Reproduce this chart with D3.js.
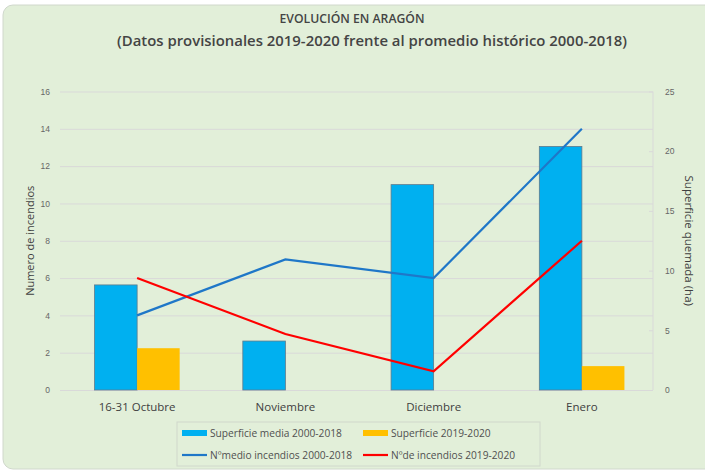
<!DOCTYPE html>
<html>
<head>
<meta charset="utf-8">
<script src="https://cdn.jsdelivr.net/npm/d3@7"></script>
<style>
  body { margin: 0; background: #fff; }
  svg { font-family: "Open Sans", "Noto Sans", sans-serif; }
  .tick text { fill: #666; font-size: 8.5px; }
  .tick line { stroke: #d9d9d9; }
  .domain { display: none; }
</style>
</head>
<body>
<svg class="chart" width="705" height="471"></svg>
<script>
var categories = ["16-31 Octubre", "Noviembre", "Diciembre", "Enero"];
var superficieMedia = [8.8, 4.1, 17.2, 20.4];     // ha, right axis
var superficie1920  = [3.5, 0, 0, 2.0];           // ha, right axis
var incendiosMedia  = [4, 7, 6, 14];              // left axis
var incendios1920   = [6, 3, 1, 8];               // left axis
var leftTicks  = [0, 2, 4, 6, 8, 10, 12, 14, 16];
var rightTicks = [0, 5, 10, 15, 20, 25];

(function() {
  var svg = d3.select(".chart");
  var margin = {top: 91.5, left: 60, right: 52, bottom: 81};
  var width = 705 - margin.left - margin.right,
      height = 471 - margin.top - margin.bottom;

  // chart background
  svg.append("rect")
    .attr("x", 3).attr("y", 5)
    .attr("width", 712).attr("height", 464)
    .attr("rx", 10)
    .attr("fill", "#e2efd9")
    .attr("stroke", "#d0d8cc");

  svg.append("text")
    .attr("x", 352).attr("y", 23)
    .attr("text-anchor", "middle")
    .style("font-size", "13px").style("font-weight", 600)
    .attr("fill", "#444")
    .attr("textLength", 145).attr("lengthAdjust", "spacingAndGlyphs")
    .text("EVOLUCIÓN EN ARAGÓN");

  svg.append("text")
    .attr("x", 372).attr("y", 46)
    .attr("text-anchor", "middle")
    .style("font-size", "13.5px").style("font-weight", 600)
    .attr("fill", "#444")
    .attr("textLength", 510).attr("lengthAdjust", "spacingAndGlyphs")
    .text("(Datos provisionales 2019-2020 frente al promedio histórico 2000-2018)");

  var chart = svg.append("g")
    .attr("transform", "translate(" + margin.left + "," + margin.top + ")");

  var x = d3.scaleBand().domain(categories).range([0, width]);
  var yL = d3.scaleLinear().domain([0, 16]).range([height, 0]);
  var yR = d3.scaleLinear().domain([0, 25]).range([height, 0]);
  var barW = x.bandwidth() * 0.287;
  var cx = function(d) { return x(d) + x.bandwidth() / 2 + 3; };

  // gridlines + left axis
  chart.append("g")
    .call(d3.axisLeft(yL).tickValues(leftTicks).tickSize(-width).tickPadding(10))
    .call(function(g) { g.selectAll(".tick line").attr("stroke", "#d9d9d9"); });

  // right axis
  var ra = chart.append("g")
    .attr("transform", "translate(" + width + ",0)")
    .call(d3.axisRight(yR).tickValues(rightTicks).tickSize(0).tickPadding(12));
  ra.append("line").attr("y1", 0).attr("y2", height).attr("stroke", "#d9d9d9");
  ra.selectAll(".tick").append("line").attr("x1", -4).attr("x2", 0).attr("stroke", "#d9d9d9");

  // bars
  chart.selectAll(".b1").data(categories).enter().append("rect")
    .attr("x", function(d) { return cx(d) - barW; })
    .attr("y", function(d, i) { return yR(superficieMedia[i]); })
    .attr("width", barW)
    .attr("height", function(d, i) { return height - yR(superficieMedia[i]); })
    .attr("fill", "#00b0f0")
    .attr("stroke", "#5f7a8c").attr("stroke-width", 0.8);

  chart.selectAll(".b2").data(categories).enter().append("rect")
    .attr("x", function(d) { return cx(d); })
    .attr("y", function(d, i) { return yR(superficie1920[i]); })
    .attr("width", barW)
    .attr("height", function(d, i) { return height - yR(superficie1920[i]); })
    .attr("fill", "#ffc000");

  // lines
  var line = d3.line()
    .x(function(d, i) { return cx(categories[i]); })
    .y(function(d) { return yL(d); });

  chart.append("path").datum(incendiosMedia)
    .attr("d", line).attr("fill", "none")
    .attr("stroke", "#1f77c8").attr("stroke-width", 2.2);
  chart.append("path").datum(incendios1920)
    .attr("d", line).attr("fill", "none")
    .attr("stroke", "#ff0000").attr("stroke-width", 2.2);

  // category labels
  chart.selectAll(".cat").data(categories).enter().append("text")
    .attr("x", cx).attr("y", height + 21)
    .attr("text-anchor", "middle")
    .style("font-size", "11.5px").attr("fill", "#404040")
    .text(function(d) { return d; });

  // axis titles
  svg.append("text")
    .attr("transform", "translate(34," + (margin.top + height / 2) + ") rotate(-90)")
    .attr("text-anchor", "middle")
    .style("font-size", "11px").attr("fill", "#404040")
    .text("Numero de incendios");
  svg.append("text")
    .attr("transform", "translate(685," + (margin.top + height / 2) + ") rotate(90)")
    .attr("text-anchor", "middle")
    .style("font-size", "11.5px").attr("fill", "#404040")
    .text("Superficie quemada (ha)");

  // legend
  var lg = svg.append("g");
  lg.append("rect").attr("x", 177).attr("y", 422).attr("width", 363).attr("height", 44)
    .attr("fill", "none").attr("stroke", "#d0d8cc");
  var items = [
    {t: "Superficie media 2000-2018", c: "#00b0f0", bar: true, x: 182, y: 433},
    {t: "Superficie 2019-2020", c: "#ffc000", bar: true, x: 363, y: 433},
    {t: "Nºmedio incendios 2000-2018", c: "#1f77c8", bar: false, x: 182, y: 455},
    {t: "Nºde incendios 2019-2020", c: "#ff0000", bar: false, x: 363, y: 455}
  ];
  items.forEach(function(d) {
    if (d.bar) {
      lg.append("rect").attr("x", d.x).attr("y", d.y - 3).attr("width", 25).attr("height", 6).attr("fill", d.c);
    } else {
      lg.append("line").attr("x1", d.x).attr("x2", d.x + 25).attr("y1", d.y).attr("y2", d.y)
        .attr("stroke", d.c).attr("stroke-width", 2.2);
    }
    lg.append("text").attr("x", d.x + 28).attr("y", d.y + 3.5)
      .style("font-size", "10.2px").attr("fill", "#505050").text(d.t);
  });
})();
</script>
</body>
</html>
